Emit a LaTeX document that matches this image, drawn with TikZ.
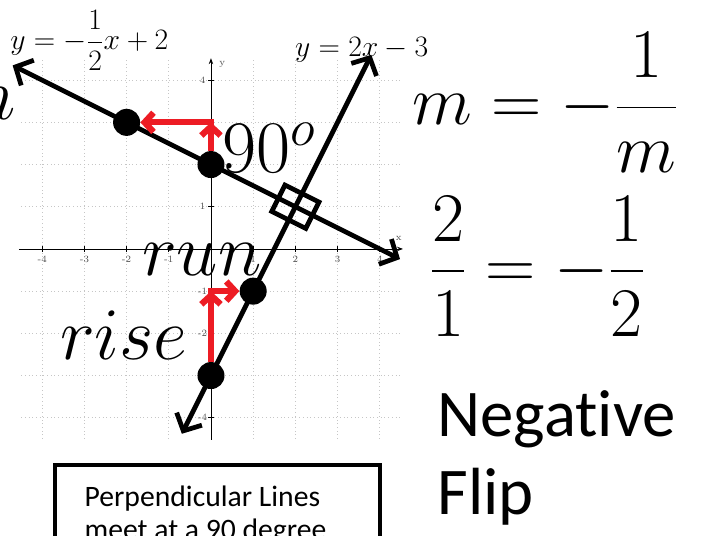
\RequirePackage{fix-cm}
\documentclass[tikz,border=0pt]{standalone}
\usepackage{amsmath}
\usepackage{fontspec}
\newfontfamily\calibri[Ligatures=NoCommon]{Carlito}
\usetikzlibrary{arrows.meta}
\definecolor{slopered}{RGB}{237,28,36}

\begin{document}
\begin{tikzpicture}[
        gridline/.style={gray!45, dotted, line width=0.5pt},
        axis/.style={-{Stealth[length=4pt,width=3pt]}, line width=0.6pt},
        ticklabel/.style={font=\fontsize{6.5}{7}\selectfont, text=black!70, inner sep=1pt},
        graphline/.style={{Straight Barb[length=9pt,width=19pt]}-{Straight Barb[length=9pt,width=19pt]}, line width=3.2pt},
        pointdot/.style={circle, fill=black, inner sep=0pt, minimum size=0.64cm},
        slope/.style={-{Straight Barb[length=6pt,width=13pt]}, slopered, line width=4.2pt},
        eqn/.style={inner sep=0pt, font=\fontsize{20}{24}\selectfont},
        bigeqn/.style={inner sep=0pt, font=\fontsize{47}{52}\selectfont},
        biglabel/.style={inner sep=0pt, font=\fontsize{50}{55}\selectfont},
        rulename/.style={inner sep=0pt, font=\calibri\fontsize{45}{52}\selectfont},
        notebox/.style={draw, line width=2.6pt, font=\calibri\fontsize{20}{22}\selectfont, text width=6.3cm, align=flush left, inner xsep=0.7cm, inner ysep=0.5cm}
    ]
        \useasboundingbox (-5.0,-6.8) rectangle (11.85,5.9);

        % Grid and axes
        \draw[gridline] (-4.5,-4.5) grid (4.5,4.5);
        \draw[axis] (-4.55,0) -- (4.55,0);
        \draw[axis] (0,-4.52) -- (0,4.52);
        \foreach \x in {-4,-3,-2,-1,1,2,3,4} \draw[line width=0.4pt] (\x,0.07) -- (\x,-0.07);
        \foreach \y in {-4,-3,-2,-1,1,2,3,4} \draw[line width=0.4pt] (-0.07,\y) -- (0.07,\y);
        \foreach \x [count=\i] in {-4,-3,-2,-1,1,2,3,4} \node[ticklabel] (tx\i) at (\x,-0.24) {\x};
        \foreach \y [count=\i] in {4,1,-1,-2,-4} \node[ticklabel] (ty\i) at (-0.2,\y) {\y};
        \node[ticklabel] (xlab) at (4.45,0.25) {x};
        \node[ticklabel] (ylab) at (0.27,4.37) {y};

        % The two lines
        \coordinate (l1a) at (-4.7,4.35);
        \coordinate (l1b) at (4.48,-0.24);
        \coordinate (l2a) at (3.8,4.6);
        \coordinate (l2b) at (-0.69,-4.38);
        \draw[graphline] (l1b) -- (l1a);
        \draw[graphline] (l2b) -- (l2a);
        \node[draw, line width=3.2pt, rotate=-26.57, minimum width=0.9cm, minimum height=0.7cm] (rightangle) at (2,1) {};

        % Points and slope steps
        \node[pointdot] (p1) at (-2,3) {};
        \node[pointdot] (p2) at (0,2) {};
        \node[pointdot] (p3) at (1,-1) {};
        \node[pointdot] (p4) at (0,-3) {};
        \coordinate (c1) at (0,3);
        \coordinate (c2) at (0,-1);
        \draw[slope] (p2) -- (c1);
        \draw[slope, shorten <=-2pt] (c1) -- (p1);
        \draw[slope] (p4) -- (c2);
        \draw[slope, shorten <=-2pt] (c2) -- (p3);

        % Labels
        \node[eqn, anchor=base west] (eqa) at (-4.76,4.72) {$y=-\dfrac{1}{2}x+2$};
        \node[eqn, anchor=base west] (eqb) at (1.99,4.55) {$y=2x-3$};
        \node[biglabel, anchor=base west] (ninety) at (0.26,1.82) {$90^o$};
        \node[biglabel, anchor=base west] (run) at (-1.64,-0.62) {$run$};
        \node[biglabel, anchor=base west] (rise) at (-3.58,-2.63) {$rise$};
        \node[biglabel, anchor=base east] (cutm) at (-4.62,3.06) {$n$};

        % Rule on the right
        \node[bigeqn, anchor=base west] (rulem) at (4.76,2.94) {$m=-\dfrac{1}{m}$};
        \node[bigeqn, anchor=base west] (ruleex) at (5.19,-0.93) {$\dfrac{2}{1}=-\dfrac{1}{2}$};
        \node[rulename, anchor=base west] (negative) at (5.36,-4.45) {Negative};
        \node[rulename, anchor=base west] (flip) at (5.36,-6.30) {Flip};

        % Note
        \node[notebox, anchor=north west] (note) at (-3.74,-5.07) {Perpendicular Lines\\meet at a 90 degree};
    \end{tikzpicture}
\end{document}
